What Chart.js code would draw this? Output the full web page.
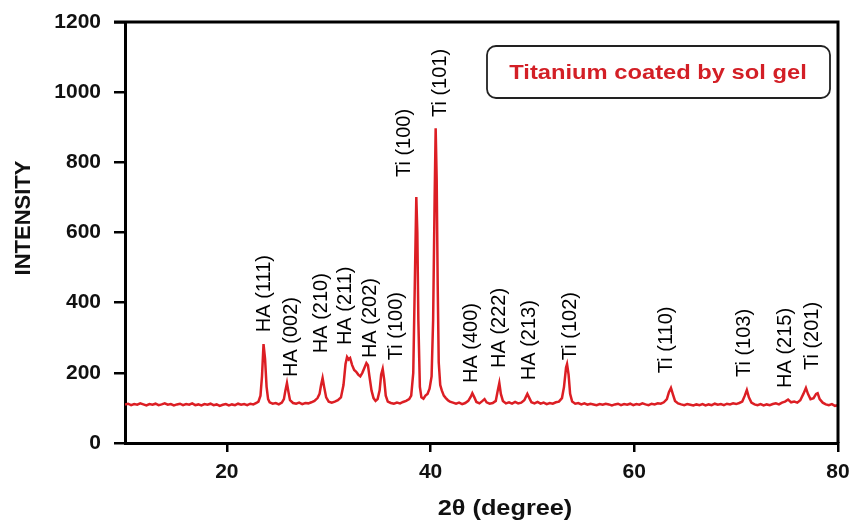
<!DOCTYPE html>
<html>
<head>
<meta charset="utf-8">
<title>XRD - Titanium coated by sol gel</title>
<script src="https://cdn.jsdelivr.net/npm/chart.js@4.4.1/dist/chart.umd.min.js"></script>
<style>
  html, body { margin: 0; padding: 0; background: #fff; }
  #wrap { width: 853px; height: 521px; }
</style>
</head>
<body>
<div id="wrap"><canvas id="xrd" width="853" height="521"></canvas></div>
<script>
//----------------------
// Data
//----------------------

const twoTheta = [
  10.0, 10.3, 10.6, 10.9, 11.2, 11.5, 11.8, 12.1, 12.4, 12.7, 13.0, 13.3, 13.6, 13.9, 14.2, 14.5, 14.8,
  15.1, 15.4, 15.7, 16.0, 16.3, 16.6, 16.9, 17.2, 17.5, 17.8, 18.1, 18.4, 18.7, 19.0, 19.3, 19.6, 19.9,
  20.2, 20.5, 20.8, 21.1, 21.4, 21.7, 22.0, 22.3, 22.6, 22.9, 23.1, 23.3, 23.45, 23.6, 23.75, 23.9,
  24.05, 24.2, 24.5, 24.8, 25.1, 25.4, 25.6, 25.75, 25.9, 26.05, 26.2, 26.5, 26.8, 27.1, 27.4, 27.7,
  28.0, 28.3, 28.6, 28.9, 29.1, 29.25, 29.4, 29.55, 29.75, 30.0, 30.3, 30.6, 30.9, 31.2, 31.45, 31.65,
  31.8, 31.95, 32.1, 32.3, 32.5, 32.7, 32.9, 33.1, 33.3, 33.5, 33.7, 33.85, 34.0, 34.2, 34.4, 34.6,
  34.8, 35.0, 35.15, 35.3, 35.45, 35.6, 35.8, 36.1, 36.4, 36.7, 37.0, 37.3, 37.6, 37.9, 38.1, 38.3,
  38.45, 38.6, 38.7, 38.8, 38.95, 39.1, 39.3, 39.5, 39.7, 39.9, 40.1, 40.25, 40.4, 40.5, 40.6, 40.7,
  40.8, 40.95, 41.1, 41.3, 41.5, 41.7, 41.9, 42.2, 42.5, 42.8, 43.1, 43.4, 43.7, 43.95, 44.1, 44.3,
  44.5, 44.8, 45.1, 45.3, 45.5, 45.8, 46.1, 46.4, 46.6, 46.75, 46.9, 47.1, 47.4, 47.7, 48.0, 48.3,
  48.6, 48.9, 49.2, 49.5, 49.7, 49.9, 50.2, 50.5, 50.8, 51.1, 51.4, 51.7, 52.0, 52.3, 52.6, 52.9,
  53.1, 53.3, 53.4, 53.55, 53.7, 53.9, 54.2, 54.5, 54.8, 55.1, 55.4, 55.7, 56.0, 56.3, 56.6, 56.9,
  57.2, 57.5, 57.8, 58.1, 58.4, 58.7, 59.0, 59.3, 59.6, 59.9, 60.2, 60.5, 60.8, 61.1, 61.4, 61.7,
  62.0, 62.3, 62.6, 62.9, 63.2, 63.4, 63.6, 63.8, 64.0, 64.3, 64.6, 64.9, 65.2, 65.5, 65.8, 66.1,
  66.4, 66.7, 67.0, 67.3, 67.6, 67.9, 68.2, 68.5, 68.8, 69.1, 69.4, 69.7, 70.0, 70.3, 70.6, 70.85,
  71.05, 71.25, 71.5, 71.8, 72.1, 72.4, 72.7, 73.0, 73.3, 73.6, 73.9, 74.2, 74.5, 74.8, 75.1, 75.4,
  75.7, 76.0, 76.3, 76.6, 76.85, 77.05, 77.3, 77.6, 77.85, 78.0, 78.2, 78.5, 78.8, 79.1, 79.4, 79.7, 80.0
];

const intensity = [
  110, 112, 108, 111, 109, 113, 110, 107, 111, 109, 112, 108, 110, 113, 109, 111, 107,
  110, 112, 108, 111, 109, 113, 108, 110, 107, 111, 109, 112, 108, 110, 106, 109, 111,
  107, 110, 108, 112, 109, 111, 108, 112, 110, 114, 118, 135, 190, 282, 240, 160,
  125, 116, 112, 114, 110, 115, 125, 150, 171, 145, 122, 114, 112, 115, 111, 114,
  113, 116, 120, 128, 140, 165, 185, 160, 130, 118, 115, 118, 122, 130, 165, 225,
  245, 238, 242, 222, 208, 203, 195, 190, 200, 214, 228, 222, 190, 150, 128, 120,
  125, 150, 195, 211, 180, 135, 118, 114, 112, 115, 113, 117, 120, 125, 135, 200,
  450, 701, 600, 350, 160, 130, 126, 135, 140, 155, 190, 350, 700, 897, 750, 450,
  230, 165, 150, 135, 128, 122, 118, 115, 112, 115, 111, 114, 120, 132, 142, 130,
  117, 113, 120, 125, 116, 112, 114, 120, 150, 171, 140, 120, 113, 116, 112, 117,
  113, 115, 122, 140, 128, 116, 113, 117, 112, 115, 111, 114, 112, 116, 118, 128,
  160, 215, 225, 195, 140, 118, 112, 114, 110, 113, 109, 112, 110, 108, 111, 109,
  112, 110, 107, 110, 112, 108, 111, 109, 112, 108, 111, 109, 113, 110, 108, 112,
  110, 113, 112, 116, 125, 145, 157, 138, 120, 113, 110, 108, 111, 109, 107, 110,
  108, 111, 107, 110, 108, 112, 109, 111, 108, 112, 110, 113, 111, 114, 118, 135,
  151, 130, 115, 110, 108, 111, 107, 110, 108, 111, 113, 110, 115, 118, 124, 116,
  118, 115, 122, 140, 157, 140, 125, 128, 140, 142, 125, 115, 110, 108, 111, 106, 108
];

const xTicks = [20, 40, 60, 80];

// peak labels: text, 2theta of the label, intensity where the label starts
const peakLabels = ['HA (111)', 'HA (002)', 'HA (210)', 'HA (211)', 'HA (202)', 'Ti (100)', 'Ti (100)', 'Ti (101)',
  'HA (400)', 'HA (222)', 'HA (213)', 'Ti (102)', 'Ti (110)', 'Ti (103)', 'HA (215)', 'Ti (201)'];
const labelTheta = [23.74, 26.39, 29.33, 31.69, 34.14, 36.69, 37.48, 41.01,
  44.05, 46.80, 49.74, 53.77, 63.19, 70.84, 74.87, 77.52];
const labelBase = [316, 188, 256, 279, 242, 236, 758, 929,
  171, 214, 179, 236, 199, 188, 157, 208];

const sampleName = 'Titanium coated by sol gel';

//----------------------
// Extra drawing: peak labels, frame, sample box, axis titles
//----------------------

const BASE_FONT = '"Liberation Sans", Arial, sans-serif';

const peakLabelPlugin = {
  id: 'peakLabels',
  afterDatasetsDraw(chart) {
    const { ctx, scales: { x, y } } = chart;
    ctx.save();
    ctx.fillStyle = '#000';
    ctx.font = '20px ' + BASE_FONT;
    ctx.textAlign = 'left';
    ctx.textBaseline = 'middle';
    peakLabels.forEach((txt, i) => {
      ctx.save();
      ctx.translate(x.getPixelForValue(labelTheta[i]), y.getPixelForValue(labelBase[i]));
      ctx.rotate(-Math.PI / 2);
      ctx.fillText(txt, 0, 0);
      ctx.restore();
    });
    ctx.restore();
  }
};

const framePlugin = {
  id: 'frame',
  afterDraw(chart) {
    const { ctx, chartArea: a } = chart;
    ctx.save();

    // top and right edges of the box
    ctx.strokeStyle = '#000';
    ctx.lineWidth = 3;
    ctx.beginPath();
    ctx.moveTo(a.left - 11, a.top);
    ctx.lineTo(a.right, a.top);
    ctx.lineTo(a.right, a.bottom);
    ctx.stroke();

    // sample name box
    ctx.lineWidth = 1.8;
    ctx.strokeStyle = '#222';
    ctx.beginPath();
    ctx.roundRect(487, 46, 343, 52, 9);
    ctx.stroke();

    ctx.fillStyle = '#d31f26';
    ctx.font = 'bold 21px ' + BASE_FONT;
    ctx.textAlign = 'center';
    ctx.textBaseline = 'middle';
    ctx.save();
    ctx.translate(658, 73);
    ctx.scale(1.13, 1);
    ctx.fillText(sampleName, 0, 0);
    ctx.restore();

    // axis titles
    ctx.fillStyle = '#111';
    ctx.font = 'bold 22px ' + BASE_FONT;
    ctx.save();
    ctx.translate(24, 218);
    ctx.rotate(-Math.PI / 2);
    ctx.fillText('INTENSITY', 0, 0);
    ctx.restore();

    ctx.save();
    ctx.translate(505, 509);
    ctx.scale(1.15, 1);
    ctx.fillText('2θ (degree)', 0, 0);
    ctx.restore();

    ctx.restore();
  }
};

//----------------------
// XRD chart
//----------------------

const points = twoTheta.map((t, i) => ({ x: t, y: intensity[i] }));

const ctx = document.getElementById('xrd').getContext('2d');
const chart = new Chart(ctx, {
  type: 'line',
  data: {
    datasets: [{
      label: sampleName,
      data: points,
      borderColor: '#dc1e24',
      borderWidth: 2.5,
      pointRadius: 0,
      tension: 0,
      fill: false
    }]
  },
  options: {
    responsive: false,
    animation: false,
    devicePixelRatio: 1,
    layout: { padding: { left: 0, right: 15, top: 22, bottom: 0 } },
    plugins: {
      legend: { display: false },
      tooltip: { enabled: false }
    },
    scales: {
      x: {
        type: 'linear',
        min: 10,
        max: 80,
        afterBuildTicks: (scale) => { scale.ticks = xTicks.map(v => ({ value: v })); },
        afterFit: (scale) => {
          // fixed box, the outer padding takes care of the edge labels
          scale.height = 78;
          scale.paddingLeft = 0;
          scale.paddingRight = 0;
        },
        border: { color: '#000', width: 3 },
        grid: { drawOnChartArea: false, color: '#000', lineWidth: 2.5, tickLength: 9 },
        ticks: {
          color: '#111',
          padding: 8,
          maxRotation: 0,
          callback: (v) => String(v),
          font: { family: BASE_FONT, size: 21, weight: 'bold' }
        }
      },
      y: {
        min: 0,
        max: 1200,
        afterFit: (scale) => {
          scale.width = 125;
          scale.paddingTop = 0;
          scale.paddingBottom = 0;
        },
        border: { color: '#000', width: 3 },
        grid: { drawOnChartArea: false, color: '#000', lineWidth: 2.5, tickLength: 11 },
        ticks: {
          stepSize: 200,
          color: '#111',
          padding: 13,
          callback: (v) => String(v),
          font: { family: BASE_FONT, size: 21, weight: 'bold' }
        }
      }
    }
  },
  plugins: [peakLabelPlugin, framePlugin]
});
</script>
</body>
</html>
